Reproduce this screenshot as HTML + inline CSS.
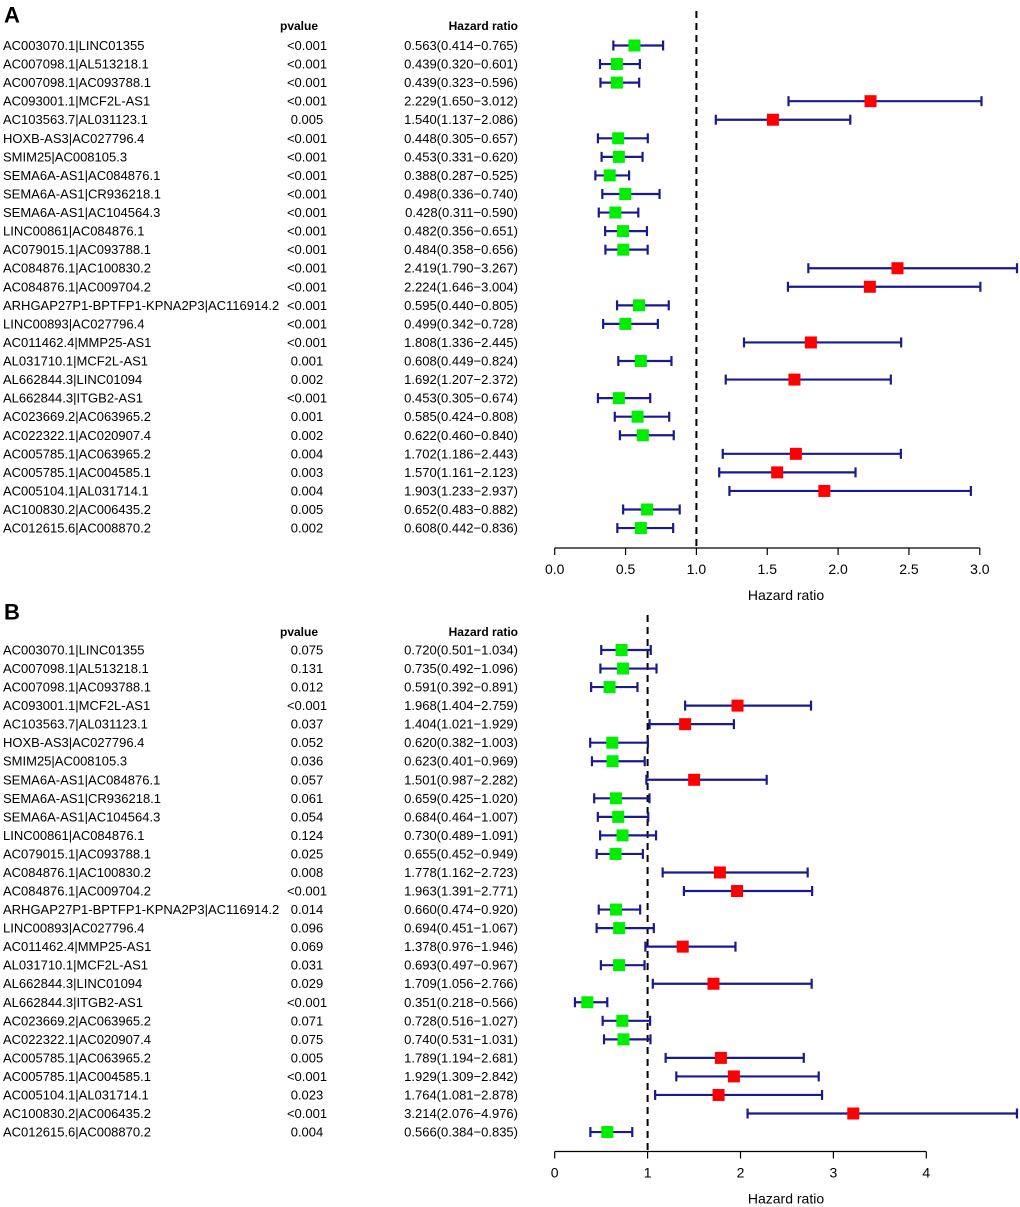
<!DOCTYPE html>
<html><head><meta charset="utf-8">
<style>
body{margin:0;background:#fff;}
svg{display:block;font-family:"Liberation Sans",Arial,sans-serif;}
</style></head>
<body>
<svg id="chart" width="1020" height="1207" viewBox="0 0 1020 1207" xmlns="http://www.w3.org/2000/svg"></svg>
<script>
const genes = ["AC003070.1|LINC01355","AC007098.1|AL513218.1","AC007098.1|AC093788.1","AC093001.1|MCF2L-AS1","AC103563.7|AL031123.1","HOXB-AS3|AC027796.4","SMIM25|AC008105.3","SEMA6A-AS1|AC084876.1","SEMA6A-AS1|CR936218.1","SEMA6A-AS1|AC104564.3","LINC00861|AC084876.1","AC079015.1|AC093788.1","AC084876.1|AC100830.2","AC084876.1|AC009704.2","ARHGAP27P1-BPTFP1-KPNA2P3|AC116914.2","LINC00893|AC027796.4","AC011462.4|MMP25-AS1","AL031710.1|MCF2L-AS1","AL662844.3|LINC01094","AL662844.3|ITGB2-AS1","AC023669.2|AC063965.2","AC022322.1|AC020907.4","AC005785.1|AC063965.2","AC005785.1|AC004585.1","AC005104.1|AL031714.1","AC100830.2|AC006435.2","AC012615.6|AC008870.2"];
const pA = ["<0.001","<0.001","<0.001","<0.001","0.005","<0.001","<0.001","<0.001","<0.001","<0.001","<0.001","<0.001","<0.001","<0.001","<0.001","<0.001","<0.001","0.001","0.002","<0.001","0.001","0.002","0.004","0.003","0.004","0.005","0.002"];
const hrA = [0.563,0.439,0.439,2.229,1.540,0.448,0.453,0.388,0.498,0.428,0.482,0.484,2.419,2.224,0.595,0.499,1.808,0.608,1.692,0.453,0.585,0.622,1.702,1.570,1.903,0.652,0.608];
const loA = [0.414,0.320,0.323,1.650,1.137,0.305,0.331,0.287,0.336,0.311,0.356,0.358,1.790,1.646,0.440,0.342,1.336,0.449,1.207,0.305,0.424,0.460,1.186,1.161,1.233,0.483,0.442];
const hiA = [0.765,0.601,0.596,3.012,2.086,0.657,0.620,0.525,0.740,0.590,0.651,0.656,3.267,3.004,0.805,0.728,2.445,0.824,2.372,0.674,0.808,0.840,2.443,2.123,2.937,0.882,0.836];
const pB = ["0.075","0.131","0.012","<0.001","0.037","0.052","0.036","0.057","0.061","0.054","0.124","0.025","0.008","<0.001","0.014","0.096","0.069","0.031","0.029","<0.001","0.071","0.075","0.005","<0.001","0.023","<0.001","0.004"];
const hrB = [0.720,0.735,0.591,1.968,1.404,0.620,0.623,1.501,0.659,0.684,0.730,0.655,1.778,1.963,0.660,0.694,1.378,0.693,1.709,0.351,0.728,0.740,1.789,1.929,1.764,3.214,0.566];
const loB = [0.501,0.492,0.392,1.404,1.021,0.382,0.401,0.987,0.425,0.464,0.489,0.452,1.162,1.391,0.474,0.451,0.976,0.497,1.056,0.218,0.516,0.531,1.194,1.309,1.081,2.076,0.384];
const hiB = [1.034,1.096,0.891,2.759,1.929,1.003,0.969,2.282,1.020,1.007,1.091,0.949,2.723,2.771,0.920,1.067,1.946,0.967,2.766,0.566,1.027,1.031,2.681,2.842,2.878,4.976,0.835];
const ticksA = ["0.0","0.5","1.0","1.5","2.0","2.5","3.0"];
const ticksB = ["0","1","2","3","4"];

const NS="http://www.w3.org/2000/svg";
const svg=document.getElementById('chart');
function mk(tag,attrs,parent){const e=document.createElementNS(NS,tag);for(const k in attrs)e.setAttribute(k,attrs[k]);(parent||svg).appendChild(e);return e;}
function txt(s,x,y,opts,parent){const e=mk('text',Object.assign({x:x,y:y,'font-size':13,fill:'#000','dominant-baseline':'central'},opts||{}),parent);e.textContent=s;return e;}

function panel(cfg){
  const g=mk('g',{});
  
  
  const xs=v=>cfg.x0+(v-cfg.dmin)*cfg.scale;
  const ys=i=>cfg.y0+i*cfg.step;
  const lab=txt(cfg.letter,4,cfg.letterY,{'font-size':22,'font-weight':'bold'},g);
  
  
  const h1=txt('pvalue',299,cfg.headY,{'font-weight':'bold','font-size':12,'text-anchor':'middle'},g);
  
  
  const h2=txt('Hazard ratio',518,cfg.headY,{'font-weight':'bold','font-size':12,'text-anchor':'end'},g);
  
  
  // reference line
  const ref=mk('line',{x1:xs(1),x2:xs(1),y1:cfg.refTop,y2:cfg.axisY,stroke:'#000','stroke-width':2,'stroke-dasharray':'7,5'},g);
  
  
  for(let i=0;i<genes.length;i++){
    const y=ys(i);
    const t1=txt(genes[i],3,y,{},g);
    
    
    const t2=txt(cfg.p[i],307,y,{'text-anchor':'middle'},g);
    
    
    const t3=txt(cfg.hr[i].toFixed(3)+'('+cfg.lo[i].toFixed(3)+'\u2212'+cfg.hi[i].toFixed(3)+')',518,y,{'text-anchor':'end'},g);
    
    
    const xl=xs(cfg.lo[i]);
    const xh=Math.min(xs(cfg.hi[i]),1017);
    const ci=mk('g',{stroke:'#1a1a8e','stroke-width':2.2},g);
    
    
    mk('line',{x1:xl,x2:xh,y1:y,y2:y},ci);
    mk('line',{x1:xl,x2:xl,y1:y-5,y2:y+5},ci);
    mk('line',{x1:xh,x2:xh,y1:y-5,y2:y+5},ci);
    const sq=mk('rect',{x:xs(cfg.hr[i])-6,y:y-6,width:12,height:12,fill:cfg.hr[i]>1?'#ff0000':'#00ee00'},g);
    
    
  }
  const ax=mk('g',{},g);
  
  
  const tv=cfg.ticks.map(Number);
  mk('line',{x1:xs(tv[0]),x2:xs(tv[tv.length-1]),y1:cfg.axisY,y2:cfg.axisY,stroke:'#000','stroke-width':1.2},ax);
  cfg.ticks.forEach((s,k)=>{
    const x=xs(tv[k]);
    mk('line',{x1:x,x2:x,y1:cfg.axisY,y2:cfg.axisY+7,stroke:'#000','stroke-width':1.2},ax);
    const tl=txt(s,x,cfg.axisY+21,{'text-anchor':'middle','font-size':14},ax);
    
    
  });
  const at=txt('Hazard ratio',786,cfg.axisY+47,{'text-anchor':'middle','font-size':14},ax);
  
  
}
panel({name:'panel-a-univariate',letter:'A',letterY:15,headY:26,p:pA,hr:hrA,lo:loA,hi:hiA,ticks:ticksA,x0:554.7,dmin:0,scale:141.7,y0:45.5,step:18.56,axisY:548,refTop:11});
panel({name:'panel-b-multivariate',letter:'B',letterY:612,headY:632,p:pB,hr:hrB,lo:loB,hi:hiB,ticks:ticksB,x0:554.7,dmin:0,scale:92.9,y0:650,step:18.54,axisY:1151.5,refTop:615});
</script>
</body></html>
